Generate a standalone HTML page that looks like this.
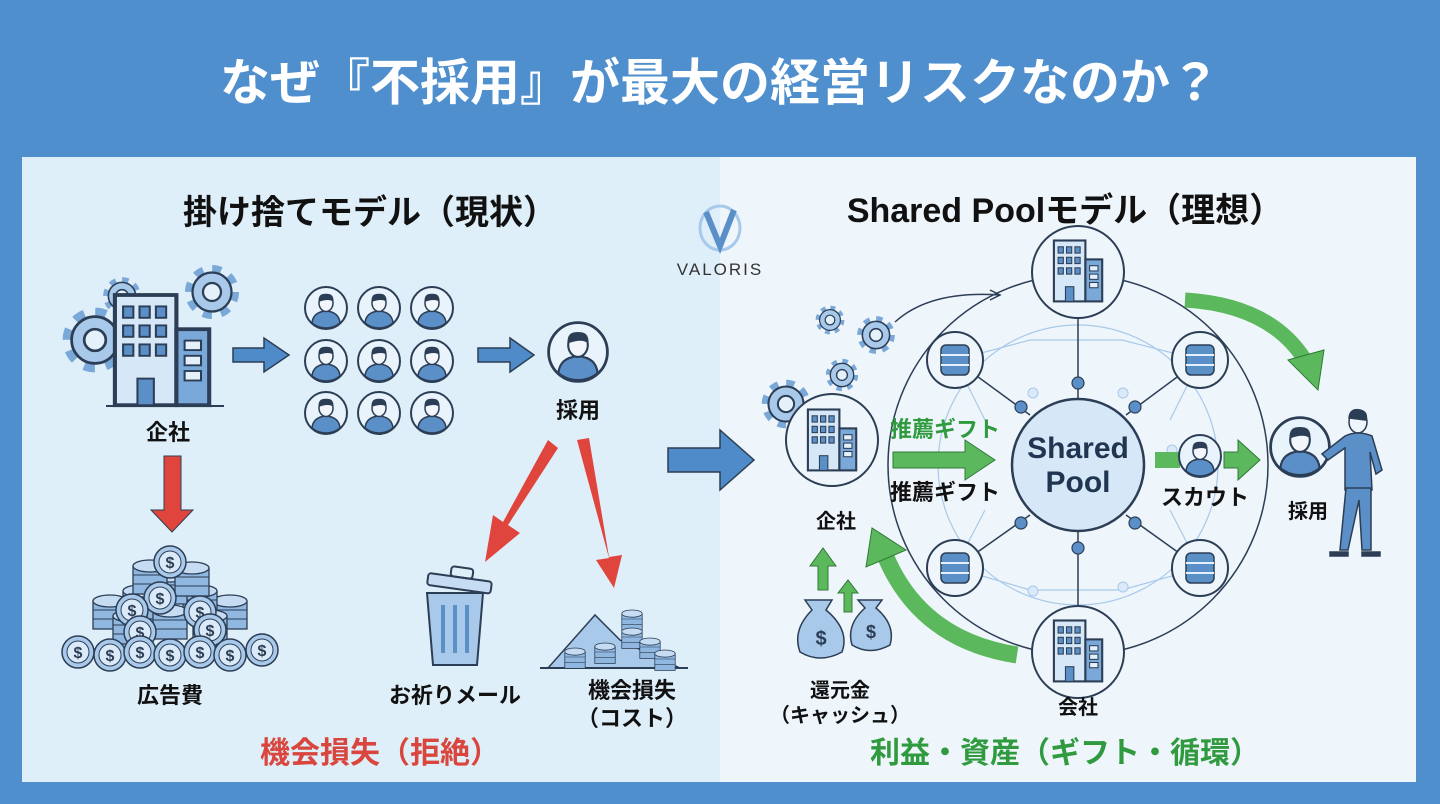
<!DOCTYPE html>
<html><head><meta charset="utf-8"><style>
html,body{margin:0;padding:0;width:1440px;height:804px;overflow:hidden;background:#4f8fcd}
svg{display:block}
text{font-family:"Liberation Sans","Noto Sans CJK JP",sans-serif;font-weight:bold}
</style></head><body>
<svg width="1440" height="804" viewBox="0 0 1440 804" xmlns="http://www.w3.org/2000/svg">
<defs>
 <g id="person">
  <circle r="21" fill="#e9f3fb" stroke="#2c3e55" stroke-width="2"/>
  <path d="M-14 15 Q-13 4 0 3 Q13 4 14 15 Q8 20 0 20 Q-8 20 -14 15Z" fill="#5b8fc8" stroke="#2c3e55" stroke-width="1.5"/>
  <ellipse cx="0" cy="-5" rx="7" ry="8.5" fill="#f2f6fb" stroke="#2c3e55" stroke-width="1.5"/>
  <path d="M-7.5 -6 Q-8 -15 0 -14 Q8 -15 7.5 -6 Q3 -10 -7.5 -6Z" fill="#2c3e55"/>
 </g>
 <g id="bld">
  <rect x="-22" y="-30" width="30" height="58" fill="#d6e7f7" stroke="#2c3e55" stroke-width="2"/>
  <rect x="8" y="-12" width="16" height="40" fill="#7aa8d8" stroke="#2c3e55" stroke-width="2"/>
  <g fill="#5b8fc8" stroke="#2c3e55" stroke-width="1">
   <rect x="-18" y="-24" width="5" height="6"/><rect x="-10" y="-24" width="5" height="6"/><rect x="-2" y="-24" width="5" height="6"/>
   <rect x="-18" y="-14" width="5" height="6"/><rect x="-10" y="-14" width="5" height="6"/><rect x="-2" y="-14" width="5" height="6"/>
   <rect x="-18" y="-4" width="5" height="6"/><rect x="-10" y="-4" width="5" height="6"/><rect x="-2" y="-4" width="5" height="6"/>
   <rect x="12" y="-6" width="8" height="5" fill="#e5f0fa"/><rect x="12" y="2" width="8" height="5" fill="#e5f0fa"/><rect x="12" y="10" width="8" height="5" fill="#e5f0fa"/>
   <rect x="-11" y="14" width="8" height="14"/>
  </g>
 </g>
 <g id="gear">
  <circle r="14" fill="none" stroke="#7aa8d8" stroke-width="8" stroke-dasharray="5.5 5.5"/>
  <circle r="13" fill="#a9c9ea" stroke="#2c3e55" stroke-width="1.5"/>
  <circle r="6" fill="#e4f0fa" stroke="#2c3e55" stroke-width="1.5"/>
 </g>
 <g id="db">
  <circle r="28" fill="#eef5fb" stroke="#2c3e55" stroke-width="2"/>
  <rect x="-14" y="-15" width="28" height="30" rx="5" fill="#5b8fc8" stroke="#2c3e55" stroke-width="1.5"/>
  <path d="M-14 -5 H14 M-14 5 H14" stroke="#e4f0fa" stroke-width="2"/>
 </g>
 <g id="coin">
  <circle r="16" fill="#a9c9ea" stroke="#2c3e55" stroke-width="1.5"/>
  <circle r="11" fill="#dbeaf8" stroke="#2c3e55" stroke-width="1"/>
  <text y="6" text-anchor="middle" font-size="16" fill="#2c3e55">$</text>
 </g>
 <g id="stack">
  <rect x="-17" y="-14" width="34" height="28" fill="#8fb7e0" stroke="#2c3e55" stroke-width="1.3"/>
  <path d="M-17 -5 H17 M-17 4 H17" stroke="#2c3e55" stroke-width="1"/>
  <ellipse cy="-14" rx="17" ry="6" fill="#c6dcf2" stroke="#2c3e55" stroke-width="1.3"/>
 </g>
</defs>

<rect x="22" y="157" width="698" height="625" fill="#dfeff9"/>
<rect x="720" y="157" width="696" height="625" fill="#eef5fb"/>

<text x="720" y="100" text-anchor="middle" font-size="50" fill="#fff">なぜ『不採用』が最大の経営リスクなのか？</text>

<text x="370" y="224" text-anchor="middle" font-size="34" fill="#111">掛け捨てモデル（現状）</text>
<text x="1065" y="222" text-anchor="middle" font-size="34" fill="#111">Shared Poolモデル（理想）</text>

<g transform="translate(720,228)">
 <ellipse rx="20" ry="22" fill="none" stroke="#a9c9ea" stroke-width="3"/>
 <path d="M-14 -16 L0 18 L14 -18" fill="none" stroke="#5b8fc8" stroke-width="6"/>
</g>
<text x="720" y="275" text-anchor="middle" font-size="17" fill="#333" letter-spacing="2" style="font-weight:normal">VALORIS</text>

<!-- LEFT -->
<use href="#gear" transform="translate(122,296) scale(1.05)"/>
<use href="#gear" transform="translate(212,292) scale(1.5)"/>
<use href="#gear" transform="translate(95,340) scale(1.8)"/>
<g transform="translate(160,352) scale(2.05,1.9)"><use href="#bld"/></g>
<line x1="106" y1="406" x2="224" y2="406" stroke="#2c3e55" stroke-width="2"/>
<text x="168" y="440" text-anchor="middle" font-size="22" fill="#111">企社</text>

<polygon points="233,348 264,348 264,338 289,355 264,372 264,362 233,362" fill="#4f8bc9" stroke="#2c3e55" stroke-width="1.5"/>
<g>
 <use href="#person" x="326" y="308"/><use href="#person" x="379" y="308"/><use href="#person" x="432" y="308"/>
 <use href="#person" x="326" y="361"/><use href="#person" x="379" y="361"/><use href="#person" x="432" y="361"/>
 <use href="#person" x="326" y="413"/><use href="#person" x="379" y="413"/><use href="#person" x="432" y="413"/>
</g>
<polygon points="478,348 510,348 510,338 534,355 510,372 510,362 478,362" fill="#4f8bc9" stroke="#2c3e55" stroke-width="1.5"/>
<g transform="translate(578,352) scale(1.4)"><use href="#person"/></g>
<text x="578" y="418" text-anchor="middle" font-size="22" fill="#111">採用</text>

<polygon points="164,456 181,456 181,510 193,510 172,532 151,510 164,510" fill="#e0453d" stroke="#2c3e55" stroke-width="1"/>
<polygon points="548,440 558,448 508,525 520,533 485,562 493,515 503,522" fill="#e0453d"/>
<polygon points="577,440 589,438 609,557 622,555 614,588 596,560 609,558" fill="#e0453d"/>

<!-- coins pile -->
<g>
 <use href="#stack" x="110" y="615"/><use href="#stack" x="230" y="615"/>
 <use href="#stack" x="140" y="605"/><use href="#stack" x="200" y="605"/>
 <use href="#stack" x="170" y="590"/><use href="#stack" x="150" y="580"/><use href="#stack" x="192" y="582"/>
 <use href="#stack" x="130" y="630"/><use href="#stack" x="210" y="630"/><use href="#stack" x="170" y="625"/>
 <use href="#coin" x="170" y="562"/><use href="#coin" x="160" y="598"/><use href="#coin" x="200" y="612"/><use href="#coin" x="132" y="610"/>
 <use href="#coin" x="140" y="632"/><use href="#coin" x="210" y="630"/>
 <use href="#coin" x="78" y="652"/><use href="#coin" x="110" y="655"/><use href="#coin" x="140" y="652"/><use href="#coin" x="170" y="655"/><use href="#coin" x="200" y="652"/><use href="#coin" x="230" y="655"/><use href="#coin" x="262" y="650"/>
</g>
<text x="170" y="703" text-anchor="middle" font-size="22" fill="#111">広告費</text>

<g transform="translate(455,615)" stroke="#2c3e55" stroke-width="2">
 <path d="M-28 -22 L-22 50 H22 L28 -22Z" fill="#a9c9ea"/>
 <rect x="-32" y="-38" width="64" height="12" rx="3" fill="#c6dcf2" transform="rotate(8)"/>
 <rect x="-10" y="-48" width="22" height="10" rx="3" fill="none" transform="rotate(8)"/>
 <path d="M-12 -10 V38 M0 -10 V38 M12 -10 V38" stroke-width="4" stroke="#5b8fc8"/>
</g>
<text x="455" y="703" text-anchor="middle" font-size="22" fill="#111">お祈りメール</text>

<g>
 <polygon points="548,668 595,615 620,640 680,668" fill="#a9c9ea" stroke="#2c3e55" stroke-width="1.5"/>
 <line x1="540" y1="668" x2="688" y2="668" stroke="#2c3e55" stroke-width="2"/>
 <use href="#stack" transform="translate(632,622) scale(0.6)"/><use href="#stack" transform="translate(632,640) scale(0.6)"/>
 <use href="#stack" transform="translate(650,650) scale(0.6)"/><use href="#stack" transform="translate(605,655) scale(0.6)"/>
 <use href="#stack" transform="translate(575,660) scale(0.6)"/><use href="#stack" transform="translate(665,662) scale(0.6)"/>
</g>
<text x="632" y="698" text-anchor="middle" font-size="22" fill="#111">機会損失</text>
<text x="632" y="726" text-anchor="middle" font-size="22" fill="#111">（コスト）</text>
<text x="380" y="763" text-anchor="middle" font-size="30" fill="#d9463e">機会損失（拒絶）</text>

<polygon points="668,448 720,448 720,430 754,460 720,490 720,472 668,472" fill="#4f8bc9" stroke="#2c3e55" stroke-width="1.5"/>

<!-- RIGHT network -->
<circle cx="1078" cy="465" r="190" fill="none" stroke="#2c3e55" stroke-width="1.5"/>
<circle cx="1078" cy="465" r="140" fill="none" stroke="#a9c9ea" stroke-width="1.2"/>
<g stroke="#a9c9ea" stroke-width="1.2" fill="none">
 <path d="M955 360 L1030 340 L1122 340 L1200 360 M955 568 L1030 590 L1122 590 L1200 568 M955 360 L985 420 M1200 360 L1170 420 M955 568 L985 510 M1200 568 L1170 510"/>
</g>
<g stroke="#2c3e55" stroke-width="1.5">
 <line x1="1078" y1="318" x2="1078" y2="398"/><line x1="1078" y1="530" x2="1078" y2="606"/>
 <line x1="955" y1="360" x2="1030" y2="415"/><line x1="1200" y1="360" x2="1126" y2="415"/>
 <line x1="955" y1="568" x2="1030" y2="515"/><line x1="1200" y1="568" x2="1126" y2="515"/>
</g>
<g fill="#5b8fc8" stroke="#2c3e55" stroke-width="1.2">
 <circle cx="1078" cy="383" r="6"/><circle cx="1078" cy="548" r="6"/>
 <circle cx="1021" cy="407" r="6"/><circle cx="1135" cy="407" r="6"/><circle cx="1021" cy="523" r="6"/><circle cx="1135" cy="523" r="6"/>
</g>
<g fill="#dbeaf8" stroke="#a9c9ea"><circle cx="1033" cy="393" r="5"/><circle cx="1123" cy="393" r="5"/><circle cx="1033" cy="591" r="5"/><circle cx="1123" cy="587" r="5"/><circle cx="1172" cy="450" r="5"/></g>
<circle cx="1078" cy="465" r="66" fill="#d6e7f7" stroke="#2c3e55" stroke-width="2.5"/>
<text x="1078" y="458" text-anchor="middle" font-size="30" fill="#1f3550">Shared</text>
<text x="1078" y="492" text-anchor="middle" font-size="30" fill="#1f3550">Pool</text>

<use href="#db" x="955" y="360"/><use href="#db" x="1200" y="360"/><use href="#db" x="955" y="568"/><use href="#db" x="1200" y="568"/>
<circle cx="1078" cy="272" r="46" fill="#eef5fb" stroke="#2c3e55" stroke-width="2"/>
<g transform="translate(1077,272) scale(1.05)"><use href="#bld"/></g>
<circle cx="1078" cy="652" r="46" fill="#eef5fb" stroke="#2c3e55" stroke-width="2"/>
<g transform="translate(1077,652) scale(1.05)"><use href="#bld"/></g>
<text x="1078" y="714" text-anchor="middle" font-size="20" fill="#111">会社</text>

<use href="#gear" transform="translate(830,320) scale(0.8)"/>
<use href="#gear" transform="translate(876,335) scale(1.05)"/>
<use href="#gear" transform="translate(842,375) scale(0.9)"/>
<use href="#gear" transform="translate(786,404) scale(1.35)"/>
<path d="M895 322 Q930 290 1000 295" fill="none" stroke="#2c3e55" stroke-width="1.5"/>
<path d="M990 290 L1000 295 L990 300" fill="none" stroke="#2c3e55" stroke-width="1.5"/>
<circle cx="832" cy="440" r="46" fill="#eef5fb" stroke="#2c3e55" stroke-width="2"/>
<g transform="translate(831,441) scale(1.05)"><use href="#bld"/></g>
<text x="836" y="528" text-anchor="middle" font-size="20" fill="#111">企社</text>

<text x="945" y="437" text-anchor="middle" font-size="22" fill="#2f9a3e">推薦ギフト</text>
<polygon points="893,452 965,452 965,440 995,460 965,480 965,468 893,468" fill="#5cb85c" stroke="#2f7a35" stroke-width="1"/>
<text x="945" y="500" text-anchor="middle" font-size="22" fill="#111">推薦ギフト</text>

<polygon points="1155,452 1180,452 1180,468 1155,468" fill="#5cb85c"/>
<use href="#person" x="1200" y="456"/>
<polygon points="1224,452 1238,452 1238,440 1260,460 1238,480 1238,468 1224,468" fill="#5cb85c" stroke="#2f7a35" stroke-width="1"/>
<text x="1205" y="505" text-anchor="middle" font-size="22" fill="#111">スカウト</text>

<g transform="translate(1300,447) scale(1.4)"><use href="#person"/></g>
<text x="1308" y="518" text-anchor="middle" font-size="20" fill="#111">採用</text>
<g stroke="#2c3e55" stroke-width="1.5" fill="#5b8fc8">
 <ellipse cx="1358" cy="422" rx="9" ry="11" fill="#eef5fb"/>
 <path d="M1349 418 Q1350 408 1360 410 Q1368 412 1366 420 Z" fill="#2c3e55"/>
 <path d="M1345 436 Q1358 430 1372 436 L1382 470 L1376 474 L1370 452 L1372 490 L1345 490 L1345 448 L1328 460 L1322 454 Z"/>
 <path d="M1346 488 L1340 550 L1348 550 L1359 500 L1362 550 L1371 550 L1371 488 Z"/>
 <path d="M1330 552 H1348 V556 H1330Z M1362 552 H1380 V556 H1362Z" fill="#2c3e55"/>
</g>

<path d="M1185 300 Q1270 305 1305 360" fill="none" stroke="#5cb85c" stroke-width="15"/>
<polygon points="1288,360 1324,350 1318,390" fill="#5cb85c" stroke="#2f7a35"/>
<path d="M1017 655 Q920 640 885 555" fill="none" stroke="#5cb85c" stroke-width="17"/>
<polygon points="866,567 872,528 906,550" fill="#5cb85c" stroke="#2f7a35"/>
<polygon points="818,590 828,590 828,566 836,566 823,548 810,566 818,566" fill="#5cb85c" stroke="#2f7a35"/>
<polygon points="844,612 852,612 852,593 858,593 848,580 838,593 844,593" fill="#5cb85c" stroke="#2f7a35"/>

<g stroke="#2c3e55" stroke-width="1.5" fill="#a9c9ea">
 <path d="M812 610 L805 600 L832 600 L826 610 Q850 630 842 652 Q820 664 800 652 Q792 630 812 610Z"/>
 <path d="M865 608 L858 600 L882 600 L876 608 Q896 625 890 645 Q870 656 852 645 Q846 625 865 608Z"/>
</g>
<text x="821" y="645" text-anchor="middle" font-size="20" fill="#2c3e55">$</text>
<text x="871" y="638" text-anchor="middle" font-size="18" fill="#2c3e55">$</text>
<text x="840" y="697" text-anchor="middle" font-size="20" fill="#111">還元金</text>
<text x="840" y="722" text-anchor="middle" font-size="20" fill="#111">（キャッシュ）</text>

<text x="1065" y="763" text-anchor="middle" font-size="30" fill="#2f9a3e">利益・資産（ギフト・循環）</text>
</svg>
</body></html>
